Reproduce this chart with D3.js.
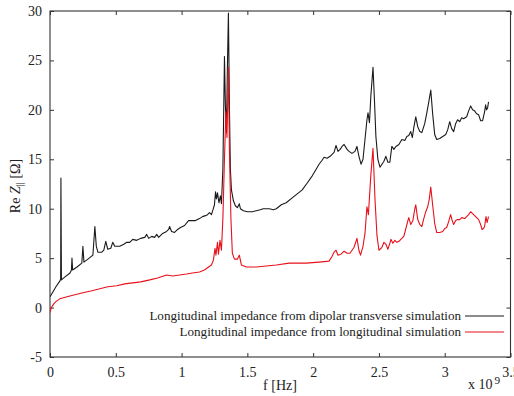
<!DOCTYPE html>
<html>
<head>
<meta charset="utf-8">
<script src="https://cdn.jsdelivr.net/npm/d3@7"></script>
<style>
  html, body { margin: 0; padding: 0; background: #fff; }
  svg { display: block; font-family: "Liberation Serif", "Times New Roman", "DejaVu Serif", serif; }
  svg text { font-family: "Liberation Serif", "Times New Roman", "DejaVu Serif", serif; fill: #222; }
</style>
</head>
<body>
<svg id="chart" width="514" height="396"></svg>
<script>
// ---- data (frequency in GHz, i.e. x 10^9 Hz; impedance in Ohm) ----
const freqDipolar = [0.000,0.023,0.045,0.076,0.081,0.083,0.087,0.114,0.152,0.163,0.167,0.172,0.205,0.242,0.250,0.258,0.288,0.326,0.341,0.352,0.364,0.394,0.409,0.424,0.439,0.462,0.477,0.492,0.530,0.561,0.583,0.606,0.629,0.659,0.689,0.720,0.735,0.750,0.773,0.795,0.811,0.826,0.856,0.886,0.902,0.909,0.924,0.947,0.970,0.992,1.023,1.053,1.076,1.106,1.136,1.159,1.182,1.197,1.212,1.227,1.239,1.250,1.258,1.265,1.273,1.284,1.295,1.303,1.314,1.326,1.333,1.341,1.348,1.356,1.364,1.371,1.379,1.394,1.409,1.424,1.439,1.447,1.470,1.500,1.538,1.568,1.598,1.621,1.644,1.667,1.697,1.720,1.758,1.795,1.841,1.879,1.917,1.955,1.992,2.023,2.045,2.068,2.083,2.106,2.129,2.144,2.159,2.174,2.189,2.205,2.220,2.235,2.258,2.273,2.295,2.318,2.333,2.348,2.364,2.379,2.394,2.409,2.417,2.428,2.439,2.455,2.466,2.477,2.492,2.508,2.523,2.538,2.553,2.568,2.583,2.598,2.614,2.629,2.652,2.674,2.697,2.712,2.727,2.742,2.754,2.765,2.780,2.795,2.811,2.826,2.848,2.864,2.879,2.894,2.909,2.924,2.939,2.962,2.985,3.008,3.023,3.038,3.053,3.068,3.083,3.098,3.114,3.129,3.144,3.167,3.182,3.197,3.212,3.227,3.242,3.258,3.273,3.288,3.303,3.311,3.318,3.326,3.333];
const valueDipolar = [1.1,1.6,2.1,2.7,2.9,13.1,2.8,3.1,3.5,3.8,5.0,3.8,4.1,4.5,6.2,4.6,4.9,5.3,8.2,6.2,5.6,5.6,5.8,6.7,5.9,6.0,6.6,6.2,6.2,6.4,6.6,6.6,6.9,6.8,7.0,7.1,7.4,7.0,7.2,7.1,7.4,7.1,7.5,7.7,7.9,8.2,7.7,7.6,7.9,8.1,8.3,8.8,8.8,8.8,9.0,9.2,9.3,9.4,9.6,9.4,9.9,10.4,11.7,11.0,11.6,10.6,11.3,10.5,14.0,25.4,20.5,17.7,24.0,29.8,20.0,14.0,11.9,10.8,10.3,10.1,10.5,10.0,9.8,9.7,9.7,9.8,9.9,10.0,10.0,10.0,9.9,10.0,10.4,10.6,11.1,11.5,11.9,12.6,13.3,14.0,14.5,14.9,15.2,15.1,15.3,15.5,15.7,16.4,15.8,16.0,16.3,16.5,16.0,15.8,15.6,15.8,16.3,15.3,14.5,15.0,17.0,19.0,19.7,18.7,21.5,24.3,21.0,17.3,15.0,14.2,14.5,14.8,15.3,14.7,14.7,16.3,16.0,16.3,16.5,17.0,16.9,17.3,17.4,17.8,17.2,18.2,19.3,18.3,17.8,17.7,18.6,19.7,20.8,22.0,19.5,17.5,17.0,17.1,17.3,17.5,18.0,18.8,18.1,17.8,18.6,19.0,18.8,19.2,19.1,19.3,19.9,20.4,20.0,19.9,19.6,19.5,18.9,18.9,19.8,20.5,20.0,20.2,20.8];

const freqLongitudinal = [0.000,0.008,0.015,0.030,0.045,0.076,0.129,0.189,0.250,0.318,0.379,0.439,0.508,0.568,0.629,0.689,0.758,0.818,0.886,0.932,0.985,1.038,1.083,1.136,1.174,1.205,1.227,1.242,1.254,1.261,1.273,1.280,1.292,1.303,1.314,1.326,1.337,1.345,1.356,1.364,1.375,1.386,1.402,1.424,1.439,1.455,1.492,1.568,1.644,1.720,1.818,1.894,1.947,2.045,2.121,2.144,2.159,2.174,2.189,2.212,2.235,2.258,2.280,2.311,2.333,2.348,2.360,2.379,2.394,2.409,2.420,2.439,2.455,2.470,2.485,2.500,2.523,2.538,2.553,2.568,2.583,2.591,2.606,2.621,2.636,2.652,2.674,2.689,2.705,2.720,2.727,2.742,2.758,2.773,2.780,2.795,2.811,2.826,2.841,2.856,2.871,2.883,2.894,2.909,2.924,2.939,2.962,2.985,3.000,3.015,3.030,3.045,3.057,3.068,3.083,3.098,3.114,3.129,3.152,3.167,3.182,3.197,3.212,3.235,3.258,3.273,3.284,3.295,3.303,3.314,3.322,3.333];
const valueLongitudinal = [-0.5,-0.1,0.1,0.4,0.6,0.9,1.1,1.3,1.5,1.7,1.9,2.1,2.2,2.4,2.5,2.6,2.8,3.0,3.3,3.2,3.3,3.4,3.5,3.6,3.8,4.1,4.3,4.8,6.0,5.3,6.6,5.4,6.8,5.8,9.0,15.0,19.8,17.2,24.3,15.7,9.0,5.5,4.9,4.9,5.3,4.3,4.1,4.1,4.2,4.3,4.5,4.5,4.5,4.6,4.7,5.2,5.6,5.8,5.3,5.4,5.7,5.5,5.5,6.1,7.0,5.8,5.3,6.2,7.5,10.2,9.4,13.5,16.1,11.0,7.3,5.8,6.1,6.6,6.4,5.9,6.5,6.9,6.5,6.8,6.6,6.7,7.0,7.2,8.0,8.8,9.1,8.4,8.8,10.0,10.4,8.9,8.4,8.2,9.0,9.7,10.2,11.0,12.2,10.3,8.5,7.6,7.6,7.7,8.0,8.1,8.7,9.4,8.8,8.4,8.8,8.9,8.9,9.1,9.0,9.2,9.4,9.7,9.5,9.2,8.9,8.4,7.9,8.0,8.2,9.2,8.6,9.2];

const xTickValues = [0, 0.5, 1, 1.5, 2, 2.5, 3, 3.5];
const xTickLabels = ["0", "0.5", "1", "1.5", "2", "2.5", "3", "3.5"];
const yTickValues = [-5, 0, 5, 10, 15, 20, 25, 30];
const yTickLabels = ["-5", "0", "5", "10", "15", "20", "25", "30"];
const seriesNames = ["Longitudinal impedance from dipolar transverse simulation",
                     "Longitudinal impedance from longitudinal simulation"];
const seriesColors = ["#1a1a1a", "#e8101a"];

// ---- layout ----
const FONT = '"Liberation Serif", "Times New Roman", "DejaVu Serif", serif';
const svg = d3.select("#chart");
const L = 50, R = 510.5, T = 11, B = 357;
const x = d3.scaleLinear().domain([0, 3.5]).range([L, R]);
const y = d3.scaleLinear().domain([-5, 30]).range([B, T]);

svg.append("defs").append("clipPath").attr("id", "plotclip")
  .append("rect").attr("x", L).attr("y", T).attr("width", R - L).attr("height", B - T);

const fsTick = 14, fsLeg = 13.1, fsLab = 14;
const tickLen = 4;
const axisColor = "#333";

const xAxisB = d3.axisBottom(x).tickValues(xTickValues)
  .tickFormat((d, i) => xTickLabels[i]).tickSizeInner(-tickLen).tickSizeOuter(0).tickPadding(10);
const gB = svg.append("g").attr("transform", `translate(0,${B})`).call(xAxisB);
const xAxisT = d3.axisTop(x).tickValues(xTickValues).tickFormat("").tickSizeInner(-tickLen).tickSizeOuter(0);
const gT = svg.append("g").attr("transform", `translate(0,${T})`).call(xAxisT);
const yAxisL = d3.axisLeft(y).tickValues(yTickValues)
  .tickFormat((d, i) => yTickLabels[i]).tickSizeInner(-tickLen).tickSizeOuter(0).tickPadding(8);
const gL = svg.append("g").attr("transform", `translate(${L},0)`).call(yAxisL);
const yAxisR = d3.axisRight(y).tickValues(yTickValues).tickFormat("").tickSizeInner(-tickLen).tickSizeOuter(0);
const gR = svg.append("g").attr("transform", `translate(${R},0)`).call(yAxisR);

[gB, gT, gL, gR].forEach(g => {
  g.attr("font-family", null).style("font-family", FONT);
  g.select(".domain").remove();
  g.selectAll("line").attr("stroke", axisColor).attr("stroke-width", 1);
  g.selectAll("text").style("font-family", FONT).attr("font-size", fsTick).attr("fill", "#222");
});
gB.selectAll("text").attr("dy", "0.71em");

svg.append("rect").attr("x", L).attr("y", T).attr("width", R - L).attr("height", B - T)
  .attr("fill", "none").attr("stroke", axisColor).attr("stroke-width", 1.1);

const line = d3.line().x(d => x(d[0])).y(d => y(d[1]));
const dipData = freqDipolar.map((f, i) => [f, valueDipolar[i]]);
const longData = freqLongitudinal.map((f, i) => [f, valueLongitudinal[i]]);
const gLines = svg.append("g").attr("clip-path", "url(#plotclip)");
gLines.append("path").datum(dipData).attr("d", line)
  .attr("fill", "none").attr("stroke", seriesColors[0]).attr("stroke-width", 1.1).attr("stroke-linejoin", "round");
gLines.append("path").datum(longData).attr("d", line)
  .attr("fill", "none").attr("stroke", seriesColors[1]).attr("stroke-width", 1.1).attr("stroke-linejoin", "round");

const legRows = [320, 336];
seriesNames.forEach((name, i) => {
  svg.append("text").attr("x", 461).attr("y", legRows[i]).attr("text-anchor", "end")
    .style("font-family", FONT).attr("font-size", fsLeg).text(name);
  svg.append("line").attr("x1", 465).attr("x2", 504).attr("y1", legRows[i] - 4).attr("y2", legRows[i] - 4)
    .attr("stroke", seriesColors[i]).attr("stroke-width", 1.1);
});

svg.append("text").attr("x", 280).attr("y", 390).attr("text-anchor", "middle")
  .style("font-family", FONT).attr("font-size", fsLab).text("f [Hz]");

const xm = svg.append("text").attr("x", 468).attr("y", 389).style("font-family", FONT).attr("font-size", fsLab);
xm.append("tspan").text("x 10");
xm.append("tspan").attr("dy", -5).attr("dx", 2).attr("font-size", fsLab * 0.8).text("9");

const yl = svg.append("text").attr("transform", "translate(20,186) rotate(-90)")
  .attr("text-anchor", "middle").style("font-family", FONT).attr("font-size", fsLab);
yl.append("tspan").text("Re ");
yl.append("tspan").attr("font-style", "italic").text("Z");
yl.append("tspan").attr("dy", 3).attr("font-size", fsLab * 0.75).text("||");
yl.append("tspan").attr("dy", -3).text(" [Ω]");
</script>
</body>
</html>
